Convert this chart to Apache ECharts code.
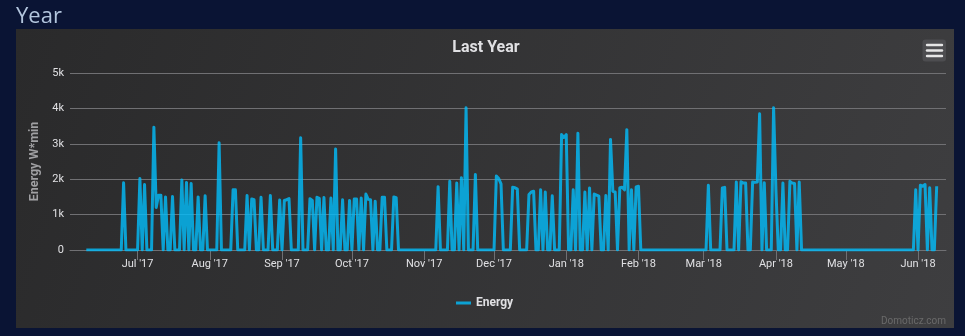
<!DOCTYPE html>
<html><head><meta charset="utf-8">
<script src="https://cdn.jsdelivr.net/npm/echarts@6/dist/echarts.min.js"></script>
<style>html,body{margin:0;padding:0;background:#0a1434;}#c{width:965px;height:336px;}</style>
</head><body><div id="c"></div><script>
// Daily energy values (W*min), one array per month
const jun17 = [0,0,0,0,0,0,0,0,0,0,0,0,0,0,0,0,1900,0,0,0,0,0]; // Jun 9..30
const jul17 = [0,2020,0,1850,0,0,0,3470,1200,1550,1550,0,1500,0,0,1510,0,0,0,1980,0,1910,0,1880,0,0,1500,0,0,1530,0];
const aug17 = [0,0,0,0,3030,0,0,0,0,0,1700,1700,0,0,0,0,1540,0,1440,1420,0,0,1490,0,0,0,1540,0,0,0,1410];
const sep17 = [0,1400,1420,1450,0,0,0,0,3170,0,0,0,1450,1400,0,1490,1460,0,1480,0,0,1470,0,2850,0,0,1420,0,0,1400];
const oct17 = [0,1440,1440,0,1470,0,1580,1430,1420,0,1380,0,0,1490,1490,0,0,0,1500,1480,0,0,0,0,0,0,0,0,0,0,0];
const nov17 = [0,0,0,0,0,0,1790,0,0,0,0,1940,0,0,1890,0,2040,0,4020,0,0,0,2130,0,0,0,0,0,0,0];
const dec17 = [0,2090,2020,1870,0,0,0,0,1770,1760,1720,0,0,0,0,1570,1640,1660,0,0,1700,0,1640,0,0,1530,0,0,0,3260,3180];
const jan18 = [3260,0,0,1700,0,3300,0,0,1640,0,1750,0,1580,1550,1520,0,0,1540,0,3120,1660,1640,0,1760,1770,1700,3400,0,1700,0,1780];
const feb18 = [1800,0,0,0,0,0,0,0,0,0,0,0,0,0,0,0,0,0,0,0,0,0,0,0,0,0,0,0];
const mar18 = [0,0,1830,0,0,0,0,0,1750,1770,0,0,0,0,1920,0,1930,1890,1890,0,0,1920,1910,1920,3850,0,1900,0,0,0,4020];
const apr18 = [1700,0,0,1890,0,0,1940,1890,1880,0,1920,0,0,0,0,0,0,0,0,0,0,0,0,0,0,0,0,0,0,0];
const may18 = [0,0,0,0,0,0,0,0,0,0,0,0,0,0,0,0,0,0,0,0,0,0,0,0,0,0,0,0,0,0,1700];
const jun18 = [0,1830,1800,1850,0,1760,0,0,1800]; // Jun 1..9

const monthData = [
  ['2017-06-09', jun17], ['2017-07-01', jul17], ['2017-08-01', aug17], ['2017-09-01', sep17],
  ['2017-10-01', oct17], ['2017-11-01', nov17], ['2017-12-01', dec17], ['2018-01-01', jan18],
  ['2018-02-01', feb18], ['2018-03-01', mar18], ['2018-04-01', apr18], ['2018-05-01', may18],
  ['2018-06-01', jun18]
];
const axisStart = '2017-06-02';
const axisEnd = '2018-06-13';
const monthNames = ['Jan','Feb','Mar','Apr','May','Jun','Jul','Aug','Sep','Oct','Nov','Dec'];
const yTicks = ['0','1k','2k','3k','4k','5k'];

const DAY = 86400000;
function parse(s){const p=s.split('-');return Date.UTC(+p[0],+p[1]-1,+p[2]);}
function fmt(t){const d=new Date(t);return d.getUTCFullYear()+'-'+String(d.getUTCMonth()+1).padStart(2,'0')+'-'+String(d.getUTCDate()).padStart(2,'0');}

const categories = [];
for (let t = parse(axisStart); t <= parse(axisEnd); t += DAY) categories.push(fmt(t));

const seriesData = [];
monthData.forEach(([start, vals]) => {
  const t0 = parse(start);
  vals.forEach((v, i) => seriesData.push([fmt(t0 + i*DAY), v]));
});

const isMonthStart = (idx, val) => val.slice(8) === '01';
const FONT = 'Roboto';

const chart = echarts.init(document.getElementById('c'), null, {renderer:'canvas'});
chart.setOption({
  backgroundColor: '#0a1434',
  animation: false,
  textStyle: {fontFamily: FONT},
  graphic: [
    {type:'rect', z:-10, shape:{x:16,y:29,width:938,height:299},
     style:{fill:{type:'linear',x:0,y:0,x2:1,y2:1,colorStops:[{offset:0,color:'#2a2a2b'},{offset:1,color:'#3e3e40'}]}}},
    {type:'text', z:5, x:16, y:17, style:{text:'Year', fill:'#b2c5dd', font:'22px "Open Sans"', verticalAlign:'middle'}},
    {type:'text', z:5, x:486, y:48, style:{text:'Last Year', fill:'#E0E0E3', font:'bold 16px '+FONT, align:'center', verticalAlign:'middle'}},
    {type:'rect', z:5, shape:{x:922.5,y:39.5,width:23.5,height:22,r:3}, style:{fill:'#4d4d50'}},
    {type:'line', z:6, shape:{x1:927,y1:45,x2:942,y2:45}, style:{stroke:'#e6e6e6',lineWidth:2.4,lineCap:'round'}},
    {type:'line', z:6, shape:{x1:927,y1:50.5,x2:942,y2:50.5}, style:{stroke:'#e6e6e6',lineWidth:2.4,lineCap:'round'}},
    {type:'line', z:6, shape:{x1:927,y1:56,x2:942,y2:56}, style:{stroke:'#e6e6e6',lineWidth:2.4,lineCap:'round'}},
    {type:'text', z:5, x:946, y:321, style:{text:'Domoticz.com', fill:'#6a6a6a', font:'10px '+FONT, align:'right', verticalAlign:'middle'}}
  ],
  grid: {left:70, right:19, top:73, bottom:86, containLabel:false},
  legend: {
    data:['Energy'], left:451, top:292, icon:'rect', itemWidth:15, itemHeight:3,
    textStyle:{color:'#E0E0E3', fontSize:12, fontWeight:'bold', fontFamily:FONT}
  },
  xAxis: {
    type:'category', data:categories, boundaryGap:false,
    axisLine:{lineStyle:{color:'#707073', width:1}},
    axisTick:{interval:isMonthStart, length:10, lineStyle:{color:'#707073'}},
    axisLabel:{interval:isMonthStart, color:'#E0E0E3', fontSize:11, margin:9, fontFamily:FONT,
      formatter:(v)=>monthNames[+v.slice(5,7)-1]+" '"+v.slice(2,4)},
    splitLine:{show:false}
  },
  yAxis: {
    type:'value', min:0, max:5000, interval:1000,
    name:'Energy W*min', nameLocation:'middle', nameRotate:90, nameGap:27,
    nameTextStyle:{color:'#A0A0A3', fontSize:12.5, fontWeight:'bold', fontFamily:FONT},
    axisLine:{show:false}, axisTick:{show:false},
    axisLabel:{color:'#E0E0E3', fontSize:11, margin:6, fontFamily:FONT, formatter:(v)=>yTicks[v/1000]},
    splitLine:{lineStyle:{color:'#707073', width:1}}
  },
  series: [{
    name:'Energy', type:'line', data:seriesData, showSymbol:false, symbol:'none',
    lineStyle:{color:'rgba(3,190,252,0.8)', width:3, join:'round'},
    itemStyle:{color:'rgba(3,190,252,0.8)'}
  }]
});
</script></body></html>
